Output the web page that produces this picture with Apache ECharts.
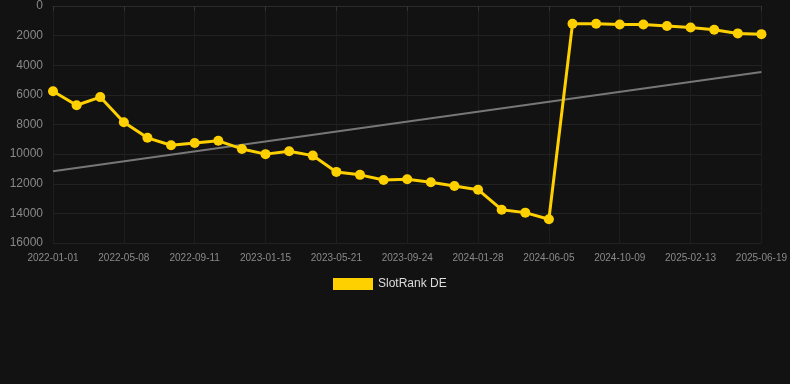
<!DOCTYPE html>
<html>
<head>
<meta charset="utf-8">
<script src="https://cdn.jsdelivr.net/npm/echarts@6/dist/echarts.min.js"></script>
<style>
html,body{margin:0;padding:0;background:#121212;}
#chart{width:790px;height:384px;}
</style>
</head>
<body>
<div id="chart"></div>
<script>
const categories = [
  "2022-01-01","2022-02-12","2022-03-26","2022-05-08","2022-06-19","2022-07-31",
  "2022-09-11","2022-10-23","2022-12-04","2023-01-15","2023-02-26","2023-04-09",
  "2023-05-21","2023-07-02","2023-08-13","2023-09-24","2023-11-05","2023-12-17",
  "2024-01-28","2024-03-10","2024-04-23","2024-06-05","2024-07-17","2024-08-28",
  "2024-10-09","2024-11-20","2025-01-01","2025-02-13","2025-03-27","2025-05-08",
  "2025-06-19"
];
const rankValues = [
  5750, 6700, 6150, 7850, 8900, 9400, 9250, 9100, 9650, 10000, 9800,
  10100, 11200, 11400, 11750, 11700, 11900, 12150, 12400, 13750, 13950,
  14400, 1200, 1200, 1250, 1250, 1350, 1450, 1600, 1850, 1900
];
const trendStart = 11150;
const trendEnd = 4450;
const yTicks = { min: 0, max: 16000, interval: 2000 };
const seriesName = "SlotRank DE";

const trendData = [[categories[0], trendStart], [categories[categories.length - 1], trendEnd]];

const chart = echarts.init(document.getElementById('chart'), null, { renderer: 'canvas' });
chart.setOption({
  backgroundColor: '#121212',
  animation: false,
  grid: { left: 53, right: 28, top: 6, bottom: 141 },
  legend: {
    data: [seriesName],
    top: 273,
    left: 328,
    itemWidth: 40,
    itemHeight: 12,
    itemGap: 5,
    textStyle: { color: '#dddddd', fontSize: 12, fontFamily: 'Arial, Liberation Sans, sans-serif' },
    icon: 'rect'
  },
  xAxis: {
    type: 'category',
    data: categories,
    boundaryGap: false,
    axisLine: { show: true, lineStyle: { color: '#2a2a2a' } },
    axisTick: { show: true, interval: 2, alignWithLabel: true, lineStyle: { color: '#333' } },
    axisLabel: { interval: 2, color: '#8a8a8a', fontSize: 10, margin: 10, fontFamily: 'Arial, Liberation Sans, sans-serif' },
    splitLine: { show: true, interval: 2, lineStyle: { color: '#1e1e1e' } }
  },
  yAxis: {
    type: 'value',
    inverse: true,
    min: yTicks.min,
    max: yTicks.max,
    interval: yTicks.interval,
    axisLine: { show: false },
    axisTick: { show: false },
    axisLabel: { color: '#888888', fontSize: 12, margin: 10, fontFamily: 'Arial, Liberation Sans, sans-serif',
      formatter: function (v) { return String(v); } },
    splitLine: { show: true, lineStyle: { color: '#222222' } }
  },
  series: [
    {
      name: seriesName,
      type: 'line',
      data: rankValues,
      color: '#ffd000',
      lineStyle: { width: 3, color: '#ffd000' },
      itemStyle: { color: '#ffd000' },
      symbol: 'circle',
      symbolSize: 10,
      z: 3
    },
    {
      name: 'trend',
      type: 'line',
      data: trendData,
      symbol: 'none',
      lineStyle: { width: 2, color: '#777777' },
      z: 2
    }
  ]
});
</script>
</body>
</html>
